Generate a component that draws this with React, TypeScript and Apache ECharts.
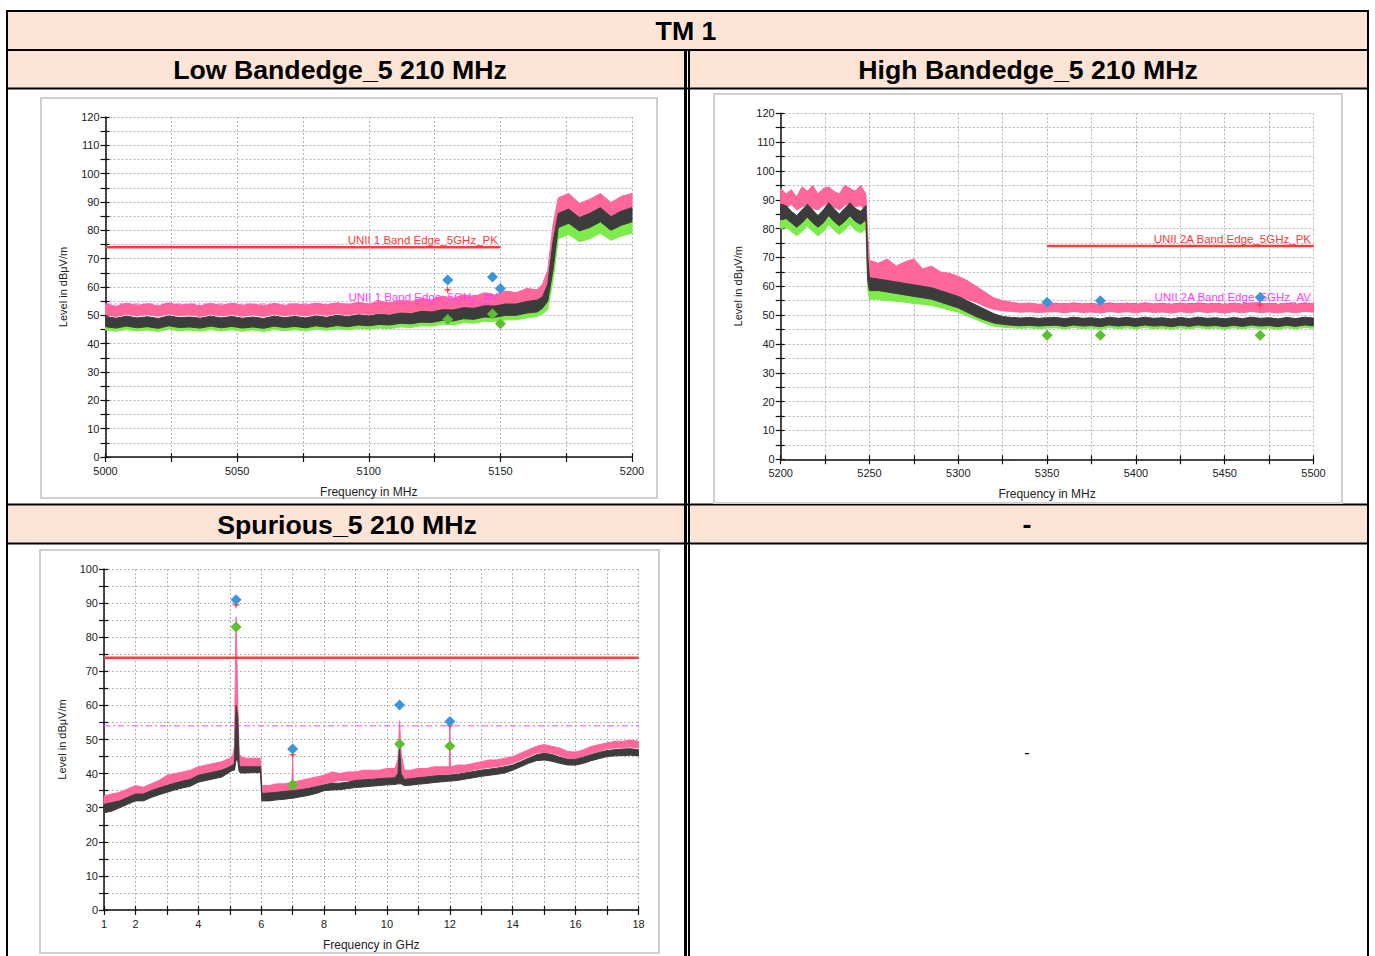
import React, { useEffect, useRef } from 'react';
import * as echarts from 'echarts';

// ---------- Low Bandedge (MHz) ----------
const LOW_FREQ = [5000,5004,5008,5012,5016,5020,5024,5028,5032,5036,5040,5044,5048,5052,5056,5060,5064,5068,5072,5076,5080,5084,5088,5092,5096,5100,5104,5108,5112,5116,5120,5124,5128,5132,5136,5140,5144,5148,5152,5156,5160,5164,5166,5168,5170,5172,5176,5180,5184,5188,5192,5196,5200];
const LOW_PK_HI = [54.0,53.2,54.3,53.5,54.1,53.3,54.4,53.6,54.0,53.4,54.2,53.5,54.3,53.6,54.0,53.4,54.2,53.5,54.1,53.6,54.3,53.7,54.4,53.8,54.6,54.0,
  55.0,54.4,55.3,54.8,56.0,55.4,56.8,56.0,57.3,56.6,58.0,57.2,58.6,58.0,59.5,59.0,
  61.0,66.0,82.0,91.5,
  93.0,89.5,91.0,93.0,89.8,92.0,93.0];
const LOW_PK_LO = [50.2,49.6,50.4,49.8,50.3,49.7,50.5,49.9,50.2,49.6,50.4,49.8,50.3,49.7,50.2,49.6,50.4,49.9,50.3,49.8,50.5,50.0,50.6,50.1,50.7,50.3,
  50.8,50.5,51.0,50.8,51.4,51.2,51.9,51.7,52.4,52.2,52.9,52.8,53.4,53.3,54.0,54.2,
  55.0,58.0,70.0,85.5,
  87.0,84.5,85.5,87.0,84.5,86.0,87.0];
const LOW_BK_HI = [49.6,49.0,49.7,49.1,49.5,48.9,49.8,49.2,49.4,49.0,49.7,49.1,49.6,49.0,49.4,48.9,49.7,49.2,49.6,49.1,49.8,49.3,50.0,49.5,50.2,49.8,
  50.4,50.1,50.8,50.6,51.4,51.2,52.0,51.9,52.7,52.5,53.4,53.3,54.0,54.0,54.9,55.4,
  56.5,61.0,76.0,86.0,
  87.5,84.5,86.0,88.0,84.8,86.8,88.0];
const LOW_BK_LO = [46.0,45.5,46.2,45.6,46.0,45.4,46.3,45.7,45.9,45.5,46.2,45.6,46.1,45.5,45.9,45.4,46.2,45.7,46.1,45.6,46.3,45.8,46.4,46.0,46.6,46.3,
  46.8,46.6,47.2,47.0,47.6,47.5,48.2,48.0,48.8,48.6,49.4,49.3,50.0,50.0,50.8,51.2,
  52.5,55.0,66.0,81.0,
  82.5,79.8,81.0,83.0,80.0,81.8,83.0];
const LOW_GR_HI = [47.0,46.6,47.2,46.7,47.0,46.5,47.3,46.8,47.0,46.6,47.2,46.7,47.1,46.6,47.0,46.5,47.2,46.8,47.1,46.7,47.3,46.9,47.4,47.1,47.6,47.3,
  47.8,47.6,48.2,48.0,48.6,48.5,49.2,49.0,49.8,49.6,50.4,50.3,51.0,51.0,51.8,52.2,
  53.0,56.0,68.0,81.5,
  82.5,80.0,81.5,83.0,80.5,82.0,83.0];
const LOW_GR_LO = [44.8,44.4,45.0,44.5,44.8,44.3,45.1,44.6,44.8,44.4,45.0,44.5,44.9,44.4,44.8,44.3,45.0,44.6,44.9,44.5,45.1,44.7,45.2,44.9,45.4,45.1,
  45.5,45.3,45.9,45.7,46.3,46.2,46.9,46.7,47.4,47.2,47.9,47.8,48.4,48.4,49.1,49.6,
  50.5,52.0,62.0,77.0,
  78.5,76.0,77.0,79.0,76.5,78.0,79.0];
const LOW_LIMIT_FREQ = [5000, 5150];
const LOW_PK_MARKS = [[5130, 62.5], [5147, 63.5], [5150, 59.5]];
const LOW_AV_MARKS = [[5130, 48.5], [5147, 50.5], [5150, 47.0]];
const LOW_RED_MARKS = [[5130, 59.0]];

// ---------- High Bandedge (MHz) ----------
const HIGH_FREQ = [5200,5203,5206,5209,5212,5215,5218,5221,5224,5227,5230,5233,5236,5239,5242,5245,5248,5249,5250,
  5255,5260,5265,5270,5275,5280,5285,5290,5295,5300,5305,5310,5315,5320,5325,5330,5335,5340,5345,5350,
  5355,5360,5365,5370,5375,5380,5385,5390,5395,5400,5405,5410,5415,5420,5425,5430,5435,5440,5445,5450,5455,5460,5465,5470,5475,5480,5485,5490,5495,5500];
const HIGH_PK_HI = [94,92,93.5,91,94.5,93,95,92,94,94.5,93,92,95,94,93,95,92, 78,69,
  68,69.5,67,68.5,69.5,66,67,65,64.5,63.5,62,60,58,56,55,54.5,54,54.2,53.8,54.0,
  54.2,53.8,54.3,53.9,54.1,53.7,54.3,53.9,54.2,53.8,54.3,53.9,54.1,53.7,54.2,53.8,54.3,53.9,54.1,53.7,54.2,53.8,54.3,53.9,54.1,53.7,54.2,53.8,54.3,54.0];
const HIGH_PK_LO = [88,87,88.5,86.5,87.5,88.5,87,86.5,88,89,87.5,86.5,88,89,87.5,88,86, 66,61.5,
  61.5,61,60.5,60.5,60,59.5,59,58.5,57.5,56.5,55.5,54.5,53,52,51.5,51.3,51.0,51.2,50.9,51.1,
  51.2,50.8,51.3,50.9,51.1,50.7,51.3,50.9,51.2,50.8,51.3,50.9,51.1,50.7,51.2,50.8,51.3,50.9,51.1,50.7,51.2,50.8,51.3,50.9,51.1,50.7,51.2,50.8,51.3,51.0];
const HIGH_BK_HI = [88.5,88,86,84.5,86.5,88.5,86.5,84.5,86.5,89,87,85,87,89,87,86,88, 70,63,
  62.5,62,61.5,61,60.5,60,59.5,58.5,57.5,56.5,55,53.5,52,50.5,49.5,49.2,49.0,49.2,48.9,49.1,
  49.2,48.8,49.3,48.9,49.1,48.7,49.3,48.9,49.2,48.8,49.3,48.9,49.1,48.7,49.2,48.8,49.3,48.9,49.1,48.7,49.2,48.8,49.3,48.9,49.1,48.7,49.2,48.8,49.3,49.0];
const HIGH_BK_LO = [83,83.5,82,80.5,82,84,82,80.5,82,84.5,82.5,81,82.5,84.5,82.5,81.5,83, 62,58.5,
  58.5,58,57.5,57,56.5,56,55.5,54.5,53.5,52.5,51,49.5,48.3,47.3,46.8,46.5,46.3,46.5,46.2,46.4,
  46.5,46.1,46.6,46.2,46.4,46.0,46.6,46.2,46.5,46.1,46.6,46.2,46.4,46.0,46.5,46.1,46.6,46.2,46.4,46.0,46.5,46.1,46.6,46.2,46.4,46.0,46.5,46.1,46.6,46.3];
const HIGH_GR_HI = [84,84.5,83,81.5,83,85,83,81.5,83,85.5,83.5,82,83.5,85.5,83.5,82.5,84, 62.5,59,
  59,58.5,58,57.5,57,56.5,56,55,54,53,51.5,50,49,48,47.8,47.6,47.4,47.6,47.3,47.5,
  47.6,47.2,47.7,47.3,47.5,47.1,47.7,47.3,47.6,47.2,47.7,47.3,47.5,47.1,47.6,47.2,47.7,47.3,47.5,47.1,47.6,47.2,47.7,47.3,47.5,47.1,47.6,47.2,47.7,47.4];
const HIGH_GR_LO = [80,80.5,79,77.5,79,81,79,77.5,79,81.5,79.5,78,79.5,81.5,79.5,78.5,80, 59,55.5,
  55.5,55,54.8,54.5,54,53.8,53.3,52.6,51.8,51,49.8,48.5,47.2,46.2,45.8,45.6,45.4,45.6,45.3,45.5,
  45.6,45.2,45.7,45.3,45.5,45.1,45.7,45.3,45.6,45.2,45.7,45.3,45.5,45.1,45.6,45.2,45.7,45.3,45.5,45.1,45.6,45.2,45.7,45.3,45.5,45.1,45.6,45.2,45.7,45.4];
const HIGH_LIMIT_FREQ = [5350, 5500];
const HIGH_PK_MARKS = [[5350, 54.5], [5380, 55.0], [5470, 56.2]];
const HIGH_AV_MARKS = [[5350, 43.0], [5380, 43.0], [5470, 43.0]];
const HIGH_RED_MARKS = [[5470, 53.5]];

// ---------- Spurious (GHz) ----------
const SP_FREQ = [1,1.25,1.5,1.75,2,2.25,2.5,2.75,3,3.25,3.5,3.75,4,4.25,4.5,4.75,5,
  5.1,5.15,5.2,5.25,5.3,5.35,
  5.5,5.75,5.98,
  6.02,6.25,6.5,6.75,6.98,7,7.02,
  7.25,7.5,7.75,8,8.25,8.5,8.75,9,9.25,9.5,9.75,10,10.25,
  10.35,10.4,10.45,10.55,
  10.75,11,11.25,11.5,11.75,
  11.98,12,12.02,
  12.25,12.5,12.75,13,13.25,13.5,13.75,14,14.25,14.5,14.75,15,15.25,15.5,15.75,16,16.25,16.5,16.75,17,17.25,17.5,17.75,18];
const SP_PK_HI = [33.5,34,34.5,35.5,36.5,36,37,38,39.5,40,40.5,41,42,42.5,43,43.5,44.5,
  45.5,48,86,63,46,45,
  44.5,44.5,44.5,
  36.5,36.5,37,37,37.5,45,37.5,
  38,38.5,39,39.5,40.5,40,40.5,40.5,41,41,41,41.5,41.5,
  44,55.5,46,41,
  41,41.5,41.5,42,42,
  42,54,42,
  42.5,42.5,43,43.5,44,44,44.5,45,46,47,48,48.5,48,47.5,46.5,46.3,47,48,48.5,49,49.5,49.5,49.8,49.5];
const SP_PK_LO = [30.5,31,31.5,32.5,33.5,33.5,34.5,35.5,36.5,37,37.5,38,39.5,40,40.5,41,42,
  42.5,43,60,50,42.5,42,
  42,42,42,
  34,34.3,34.5,34.8,35,36,35,
  35.5,36,36.5,37,37.5,38,38,38,38.5,38.5,38.5,39,39,
  40,42,40,38.5,
  38.5,39,39,39.5,39.8,
  40,40,40,
  40.2,40.5,41,41.5,41.8,42,42.5,43,44,45,46,46.3,46,45.3,44.5,44.5,45,46,46.5,47.3,47.5,47.6,47.8,47.5];
const SP_BK_HI = [31,31.5,32,33,34,34,35,35.8,36.5,37.2,37.8,38.3,39.5,40,40.5,41,42,
  42.5,43,60,57,42.5,42,
  42,42,42,
  34.2,34.3,34.5,34.8,35,35,35,
  35.3,35.7,36.2,36.7,37.2,37.2,37.5,38,38.2,38.3,38.5,38.7,38.8,
  40,48,40,38.3,
  38.5,38.8,39,39.3,39.5,
  39.6,39.6,39.6,
  39.8,40.2,40.6,41,41.3,41.6,42,42.5,43.5,44.5,45.5,46,45.6,44.8,44.2,44.2,44.8,45.6,46.2,46.8,47,47.2,47.3,47];
const SP_BK_LO = [28.5,29,30,31,32,32,33,33.8,34.5,35.2,35.8,36.3,37.5,38,38.5,39,40.5,
  41,41,44,44,40.5,40.2,
  40.2,40.3,40.3,
  32,32,32.3,32.5,32.8,32.8,32.8,
  33.2,33.6,34.2,35,35.2,35.3,35.6,35.9,36.1,36.3,36.5,36.7,36.8,
  37,37,37,36.5,
  36.6,36.9,37.1,37.4,37.6,
  37.8,37.8,37.8,
  38,38.4,38.8,39.2,39.5,39.8,40.2,41,42,43,43.8,44,43.6,43,42.5,42.5,43,43.8,44.4,45,45.2,45.3,45.4,45.2];
const SP_LIMIT_FREQ = [1, 18];
const SP_PK_MARKS = [[5.2, 91.0], [7.0, 47.2], [10.4, 60.1], [12.0, 55.3]];
const SP_AV_MARKS = [[5.2, 83.0], [7.0, 36.7], [10.4, 48.7], [12.0, 48.1]];
const SP_RED_MARKS = [[5.2, 89.5], [7.0, 45.5], [12.0, 54.0]];

const PK_LIMIT = 74;
const AV_LIMIT = 54;
const PK_LABEL_LOW = 'UNII 1 Band Edge_5GHz_PK';
const AV_LABEL_LOW = 'UNII 1 Band Edge_5GHz_AV';
const PK_LABEL_HIGH = 'UNII 2A Band Edge_5GHz_PK';
const AV_LABEL_HIGH = 'UNII 2A Band Edge_5GHz_AV';

const FONT = "'Liberation Sans', Arial, Helvetica, sans-serif";
const PINK = '#FF6699';
const DARK = '#3C3C3C';
const GREEN = '#7DEB4A';
const BLUE = '#3A96DA';
const MKGREEN = '#5CBF2E';
const RED = '#FF3B3B';
const MAGENTA = '#FF3CFF';
const PEACH = '#FCE4D6';
const STAR = 'path://M5,0L6,4L10,5L6,6L5,10L4,6L0,5L4,4Z';

function band(axis: number, xs: number[], lo: number[], hi: number[], color: string) {
  return {
    type: 'custom', xAxisIndex: axis, yAxisIndex: axis, silent: true, z: 2,
    data: xs.map((x, i) => [x, lo[i], hi[i]]),
    encode: { x: 0, y: [1, 2] },
    renderItem: (params: any, api: any) => {
      if (params.dataIndex !== 0) return null;
      const top = xs.map((x, i) => api.coord([x, hi[i]]));
      const bot = xs.map((x, i) => api.coord([x, lo[i]])).reverse();
      return {
        type: 'polygon',
        shape: { points: top.concat(bot) },
        style: { fill: color, stroke: color, lineWidth: 1 },
      };
    },
  };
}

function limit(axis: number, fs: number[], level: number, color: string, width: number, dash: any, text: string | null, z: number) {
  const end: any = { value: [fs[1], level] };
  if (text) {
    end.label = {
      show: true, position: 'left', distance: 0, offset: [-2, -7], formatter: text,
      color, fontSize: 11.5, fontFamily: FONT,
    };
  }
  return {
    type: 'line', xAxisIndex: axis, yAxisIndex: axis, z, silent: true,
    symbol: 'circle', symbolSize: 1, itemStyle: { color },
    lineStyle: { color, width, type: dash },
    label: { show: false },
    data: [[fs[0], level], end],
  };
}

function marks(axis: number, data: number[][], symbol: string, size: number, color: string, z: number) {
  return { type: 'scatter', xAxisIndex: axis, yAxisIndex: axis, data, symbol, symbolSize: size, itemStyle: { color, opacity: 1 }, z, silent: true };
}

function xAxes(g: number, min: number, max: number, interval: number, show: (v: number) => boolean, name: string) {
  return [
    {
      type: 'value', gridIndex: g, position: 'bottom', min, max, interval,
      axisLine: { show: true, onZero: false, lineStyle: { color: '#111', width: 1.5 } },
      axisTick: { show: true, length: 5, lineStyle: { color: '#111', width: 1.2 } },
      axisLabel: { formatter: (v: number) => (show(v) ? String(v) : ''), fontSize: 11, color: '#222', margin: 8, fontFamily: FONT, showMinLabel: true, showMaxLabel: true },
      splitLine: { show: true, lineStyle: { color: '#b5b5b5', type: [2, 2], width: 1 } },
      name, nameLocation: 'middle', nameGap: 29, nameTextStyle: { fontSize: 12, color: '#222', fontFamily: FONT },
    },
    {
      type: 'value', gridIndex: g, position: 'bottom', min, max, interval,
      axisLine: { show: false, onZero: false }, axisTick: { show: true, inside: true, length: 4, lineStyle: { color: '#111', width: 1.2 } },
      axisLabel: { show: false }, splitLine: { show: false },
    },
  ];
}

function yAxes(g: number, max: number) {
  return [
    {
      type: 'value', gridIndex: g, position: 'left', min: 0, max, interval: 5,
      axisLine: { show: true, onZero: false, lineStyle: { color: '#111', width: 1.5 } },
      axisTick: { show: true, length: 5, lineStyle: { color: '#111', width: 1.2 } },
      axisLabel: { formatter: (v: number) => (v % 10 === 0 ? String(v) : ''), fontSize: 11, color: '#222', margin: 6, fontFamily: FONT, showMinLabel: true, showMaxLabel: true },
      splitLine: { show: true, lineStyle: { color: '#b5b5b5', type: [2, 2], width: 1 } },
      name: 'Level in dBμV/m', nameLocation: 'middle', nameGap: 37, nameTextStyle: { fontSize: 11, color: '#222', fontFamily: FONT },
    },
    {
      type: 'value', gridIndex: g, position: 'left', min: 0, max, interval: 5,
      axisLine: { show: false, onZero: false }, axisTick: { show: true, inside: true, length: 4, lineStyle: { color: '#111', width: 1.2 } },
      axisLabel: { show: false }, splitLine: { show: false },
    },
  ];
}

function rect(x: number, y: number, w: number, h: number, fill: string) {
  return { type: 'rect', shape: { x, y, width: w, height: h }, style: { fill }, silent: true, z: -5 };
}
function frame(x: number, y: number, w: number, h: number) {
  return { type: 'rect', shape: { x, y, width: w, height: h }, style: { fill: 'none', stroke: '#cfcfcf', lineWidth: 2 }, silent: true, z: -5 };
}
function title(text: string, x: number, y: number, size: number, weight: string) {
  return {
    type: 'text', x, y, silent: true, z: 10,
    style: { text, fill: '#000', fontSize: size, fontWeight: weight, fontFamily: FONT, align: 'center', verticalAlign: 'middle', textAlign: 'center', textVerticalAlign: 'middle' },
  };
}

function buildOption() {
  const graphic = [
    rect(8, 12, 1360, 38, PEACH),
    rect(8, 51, 677, 37, PEACH),
    rect(690, 51, 678, 37, PEACH),
    rect(8, 505, 677, 38, PEACH),
    rect(690, 505, 678, 38, PEACH),
    rect(6, 10, 1363, 2, '#000'),
    rect(6, 49, 1363, 2, '#000'),
    rect(6, 87.5, 1363, 2, '#000'),
    rect(6, 503.5, 1363, 2, '#000'),
    rect(6, 542.5, 1363, 2, '#000'),
    rect(6, 10, 2, 946, '#000'),
    rect(1367, 10, 2, 946, '#000'),
    rect(684, 50, 3, 906, '#000'),
    rect(688, 50, 2, 906, '#000'),
    frame(41, 98, 616, 400),
    frame(714, 94, 628, 409),
    frame(40, 550, 619, 403),
    title('TM 1', 686, 31, 26.7, 'bold'),
    title('Low Bandedge_5 210 MHz', 340, 70, 26.7, 'bold'),
    title('High Bandedge_5 210 MHz', 1028, 70, 26.7, 'bold'),
    title('Spurious_5 210 MHz', 347, 525, 26.7, 'bold'),
    title('-', 1027, 524, 26.7, 'bold'),
    title('-', 1027, 752, 16, 'normal'),
  ];

  const series: any[] = [
    // low
    limit(0, LOW_LIMIT_FREQ, AV_LIMIT, MAGENTA, 1, [6, 3, 2, 3], AV_LABEL_LOW, 2),
    band(0, LOW_FREQ, LOW_GR_LO, LOW_GR_HI, GREEN),
    band(0, LOW_FREQ, LOW_PK_LO, LOW_PK_HI, PINK),
    band(0, LOW_FREQ, LOW_BK_LO, LOW_BK_HI, DARK),
    limit(0, LOW_LIMIT_FREQ, PK_LIMIT, RED, 2.5, 'solid', PK_LABEL_LOW, 3),
    marks(0, LOW_RED_MARKS, STAR, 9, RED, 4),
    marks(0, LOW_PK_MARKS, 'diamond', 11, BLUE, 5),
    marks(0, LOW_AV_MARKS, 'diamond', 11, MKGREEN, 5),
    // high
    limit(2, HIGH_LIMIT_FREQ, AV_LIMIT, MAGENTA, 1, [6, 3, 2, 3], AV_LABEL_HIGH, 2),
    band(2, HIGH_FREQ, HIGH_GR_LO, HIGH_GR_HI, GREEN),
    band(2, HIGH_FREQ, HIGH_PK_LO, HIGH_PK_HI, PINK),
    band(2, HIGH_FREQ, HIGH_BK_LO, HIGH_BK_HI, DARK),
    limit(2, HIGH_LIMIT_FREQ, PK_LIMIT, RED, 2.5, 'solid', PK_LABEL_HIGH, 3),
    marks(2, HIGH_RED_MARKS, STAR, 9, RED, 4),
    marks(2, HIGH_PK_MARKS, 'diamond', 11, BLUE, 5),
    marks(2, HIGH_AV_MARKS, 'diamond', 11, MKGREEN, 5),
    // spurious
    limit(4, SP_LIMIT_FREQ, AV_LIMIT, MAGENTA, 1, [6, 3, 2, 3], null, 2),
    band(4, SP_FREQ, SP_PK_LO, SP_PK_HI, PINK),
    band(4, SP_FREQ, SP_BK_LO, SP_BK_HI, DARK),
    limit(4, SP_LIMIT_FREQ, PK_LIMIT, RED, 2.5, 'solid', null, 3),
    marks(4, SP_RED_MARKS, STAR, 9, RED, 4),
    marks(4, SP_PK_MARKS, 'diamond', 11, BLUE, 5),
    marks(4, SP_AV_MARKS, 'diamond', 11, MKGREEN, 5),
  ];

  return {
    animation: false,
    backgroundColor: 'transparent',
    textStyle: { fontFamily: FONT },
    grid: [
      { left: 105.5, top: 117, width: 526.5, height: 340, outerBoundsMode: 'none', containLabel: false },
      { left: 780.7, top: 113.3, width: 532.8, height: 346, outerBoundsMode: 'none', containLabel: false },
      { left: 104, top: 569, width: 534.5, height: 341, outerBoundsMode: 'none', containLabel: false },
    ],
    xAxis: [
      ...xAxes(0, 5000, 5200, 25, (v) => v % 50 === 0, 'Frequency in MHz'),
      ...xAxes(1, 5200, 5500, 25, (v) => v % 50 === 0, 'Frequency in MHz'),
      ...xAxes(2, 1, 18, 1, (v) => v === 1 || v % 2 === 0, 'Frequency in GHz'),
    ],
    yAxis: [...yAxes(0, 120), ...yAxes(1, 120), ...yAxes(2, 100)],
    graphic,
    series,
  };
}

export default function App() {
  const ref = useRef<HTMLDivElement>(null);
  useEffect(() => {
    if (!ref.current) return;
    const chart = echarts.init(ref.current, null, { renderer: 'svg' });
    chart.setOption(buildOption() as any);
    return () => chart.dispose();
  }, []);
  return (
    <div style={{ position: 'absolute', left: 0, top: 0, width: 1375, height: 956, background: '#fff', overflow: 'hidden' }}>
      <div ref={ref} style={{ width: 1375, height: 956 }} />
    </div>
  );
}
